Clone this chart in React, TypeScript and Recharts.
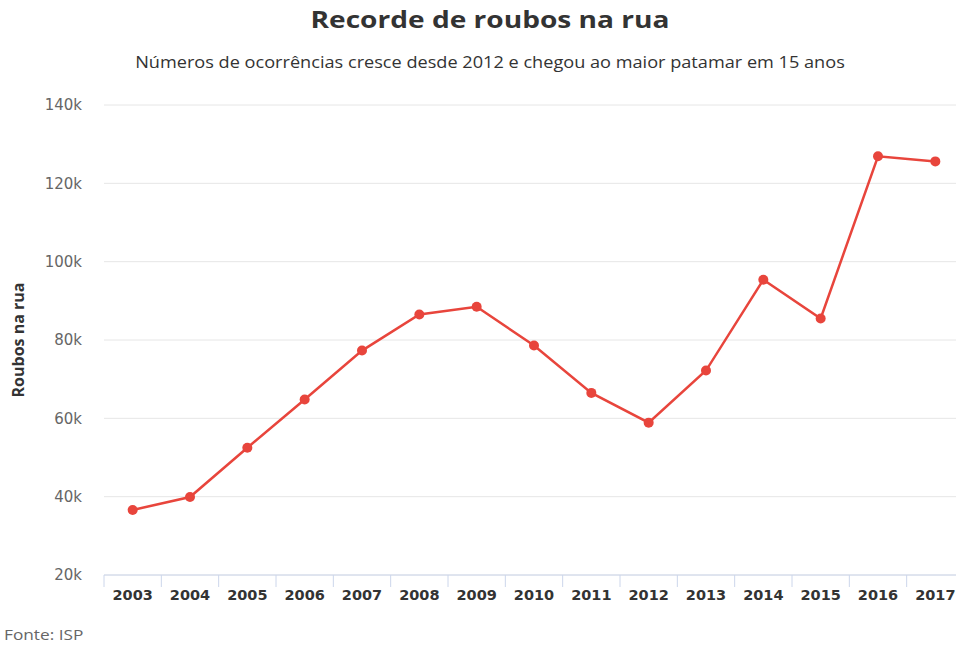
import { LineChart, Line, XAxis, YAxis, CartesianGrid } from 'recharts';

const years = ['2003', '2004', '2005', '2006', '2007', '2008', '2009', '2010', '2011', '2012', '2013', '2014', '2015', '2016', '2017'];
const roubos = [36600, 39900, 52500, 64800, 77300, 86500, 88500, 78600, 66500, 58900, 72200, 95400, 85500, 126900, 125600];
const yTicks = [20000, 40000, 60000, 80000, 100000, 120000, 140000];

const data = years.map((ano, i) => ({ ano, roubos: roubos[i] }));

const FONT = '"Open Sans", "Noto Sans", sans-serif';
const TICK_FONT = '"DejaVu Sans", Verdana, sans-serif';
const CHART_W = 980;
const PLOT_LEFT = 104;
const PLOT_RIGHT = 964;
const HALF_BAND = (PLOT_RIGHT - PLOT_LEFT) / years.length / 2;

function YearTick({ x, y, payload }: any) {
  return (
    <g>
      <line x1={x - HALF_BAND} x2={x - HALF_BAND} y1={y} y2={y + 12} stroke="#ccd6eb" strokeWidth={1} />
      <text x={x} y={y + 25} textAnchor="middle" fill="#333" fontSize={14.5} fontWeight={700} fontFamily={TICK_FONT}>
        {payload.value}
      </text>
    </g>
  );
}

const stretch = { transform: 'scaleX(1.17)', transformOrigin: '490px 0' };

export default function App() {
  return (
    <div style={{ position: 'fixed', top: 0, left: 0, width: 956, height: 648, overflow: 'hidden', background: '#fff', fontFamily: FONT }}>
      <div style={{ position: 'absolute', top: 2, left: 0, width: CHART_W, textAlign: 'center', fontSize: 24, fontWeight: 700, color: '#333', ...stretch }}>
        Recorde de roubos na rua
      </div>
      <div style={{ position: 'absolute', top: 51, left: 0, width: CHART_W, textAlign: 'center', fontSize: 15.5, color: '#333', ...stretch }}>
        Números de ocorrências cresce desde 2012 e chegou ao maior patamar em 15 anos
      </div>
      <div style={{ position: 'absolute', top: 624, left: 4, fontSize: 15, color: '#666', transform: 'scaleX(1.15)', transformOrigin: '0 0' }}>
        Fonte: ISP
      </div>
      <div style={{ position: 'absolute', top: 0, left: 0 }}>
        <LineChart width={CHART_W} height={648} data={data} margin={{ top: 105, right: CHART_W - PLOT_RIGHT, bottom: 43, left: 0 }}>
          <CartesianGrid vertical={false} stroke="#e6e6e6" />
          <XAxis
            dataKey="ano"
            height={30}
            padding={{ left: HALF_BAND, right: HALF_BAND }}
            tickLine={false}
            tickSize={0}
            tickMargin={0}
            stroke="#ccd6eb"
            tick={<YearTick />}
            interval={0}
          />
          <YAxis
            width={PLOT_LEFT}
            domain={[20000, 140000]}
            ticks={yTicks}
            axisLine={false}
            tickLine={false}
            tickMargin={16}
            tickFormatter={(v: number) => `${v / 1000}k`}
            tick={{ fill: '#666', fontSize: 15, fontFamily: TICK_FONT }}
            label={{ value: 'Roubos na rua', angle: -90, position: 'center', dx: -34, fill: '#333', fontSize: 16, fontWeight: 700, fontFamily: FONT }}
          />
          <Line
            type="linear"
            dataKey="roubos"
            stroke="#e8453c"
            strokeWidth={2.5}
            dot={{ r: 5, fill: '#e8453c', stroke: 'none' }}
            activeDot={false}
            isAnimationActive={false}
          />
        </LineChart>
      </div>
    </div>
  );
}
